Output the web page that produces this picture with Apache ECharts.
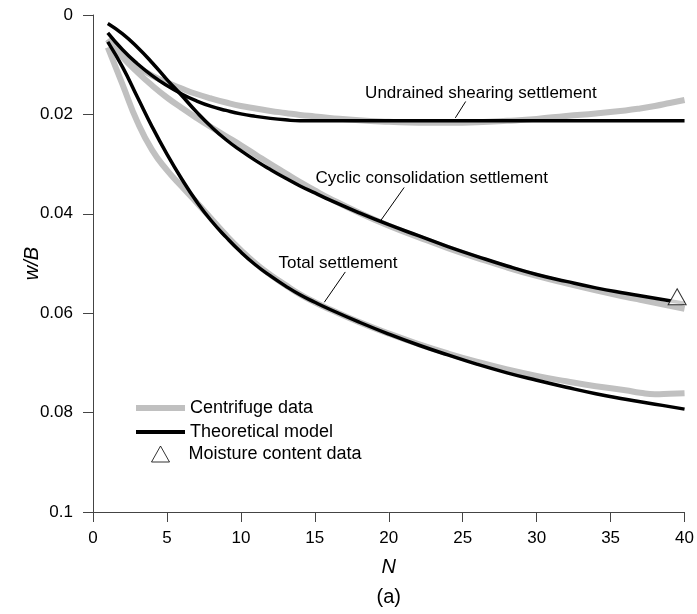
<!DOCTYPE html>
<html>
<head>
<meta charset="utf-8">
<script src="https://cdn.jsdelivr.net/npm/echarts@6/dist/echarts.min.js"></script>
<style>
  html, body { margin: 0; padding: 0; background: #fff; }
  #chart { width: 697px; height: 614px; }
</style>
</head>
<body>
<div id="chart"></div>
<script>
  // cycle number N (shared by all curves)
  const N = [1, 2, 3, 4, 5, 6, 7, 8, 9, 10, 11, 12, 13, 14, 15, 16, 18, 20, 22, 24, 26, 28, 30, 32, 34, 36, 37, 38, 39, 40]

  // centrifuge data (grey)
  const CF_UNDRAINED = [0.0049, 0.0082, 0.0104, 0.0122, 0.0136, 0.0148, 0.0159, 0.0168, 0.0176, 0.0183, 0.0188, 0.0193, 0.0197, 0.0201, 0.0204, 0.0207, 0.0212, 0.0215, 0.0217, 0.0217, 0.0216, 0.0213, 0.0209, 0.0203, 0.0198, 0.0192, 0.0188, 0.0183, 0.0177, 0.0171]
  const CF_CYCLIC = [0.0049, 0.0085, 0.0115, 0.0142, 0.0166, 0.0187, 0.0207, 0.0226, 0.0244, 0.0262, 0.0281, 0.0300, 0.0318, 0.0336, 0.0353, 0.0369, 0.0398, 0.0424, 0.0447, 0.0469, 0.0489, 0.0508, 0.0525, 0.0540, 0.0554, 0.0567, 0.0573, 0.0579, 0.0585, 0.0591]
  const CF_TOTAL = [0.0065, 0.0140, 0.0215, 0.0272, 0.0312, 0.0345, 0.0377, 0.0410, 0.0443, 0.0473, 0.0500, 0.0523, 0.0543, 0.0562, 0.0578, 0.0592, 0.0618, 0.0641, 0.0662, 0.0681, 0.0698, 0.0713, 0.0726, 0.0737, 0.0747, 0.0755, 0.0760, 0.0763, 0.0762, 0.0761]

  // theoretical model (black)
  const TH_UNDRAINED = [0.0036, 0.0070, 0.0098, 0.0122, 0.0142, 0.0159, 0.0173, 0.0184, 0.0192, 0.0199, 0.0204, 0.0208, 0.0211, 0.0213, 0.0213, 0.0213, 0.0213, 0.0213, 0.0213, 0.0213, 0.0213, 0.0213, 0.0213, 0.0213, 0.0213, 0.0213, 0.0213, 0.0213, 0.0213, 0.0213]
  const TH_CYCLIC = [0.0017, 0.0038, 0.0065, 0.0096, 0.0130, 0.0162, 0.0195, 0.0225, 0.0251, 0.0273, 0.0293, 0.0311, 0.0328, 0.0344, 0.0358, 0.0372, 0.0398, 0.0422, 0.0444, 0.0466, 0.0486, 0.0505, 0.0522, 0.0536, 0.0549, 0.0560, 0.0565, 0.0570, 0.0575, 0.0580]
  const TH_TOTAL = [0.0054, 0.0105, 0.0165, 0.0225, 0.0280, 0.0330, 0.0375, 0.0414, 0.0447, 0.0477, 0.0503, 0.0525, 0.0545, 0.0563, 0.0578, 0.0592, 0.0618, 0.0642, 0.0664, 0.0684, 0.0703, 0.0720, 0.0735, 0.0749, 0.0762, 0.0773, 0.0778, 0.0783, 0.0788, 0.0793]

  // moisture content data point
  const MOISTURE = [[39.5, 0.0567]]

  // axes
  const X_TICKS = [0, 40, 5]
  const Y_TICKS = [0, 0.1, 0.02]

  const FONT = '"Liberation Sans", Arial, sans-serif'
  const GREY = '#c0c0c0'

  const pairs = (ys) => N.map((n, i) => [n, ys[i]])

  const greyLine = (ys) => ({
    name: 'Centrifuge data',
    type: 'line',
    data: pairs(ys),
    smooth: 0.5,
    symbol: 'none',
    z: 2,
    itemStyle: { color: GREY },
    lineStyle: { color: GREY, width: 6 },
    emphasis: { disabled: true }
  })

  const blackLine = (ys) => ({
    name: 'Theoretical model',
    type: 'line',
    data: pairs(ys),
    smooth: 0.5,
    symbol: 'none',
    z: 3,
    itemStyle: { color: '#000' },
    lineStyle: { color: '#000', width: 3.5 },
    emphasis: { disabled: true }
  })

  const legendBase = {
    orient: 'vertical',
    selectedMode: false,
    padding: 0,
    textStyle: { fontSize: 18, fontFamily: FONT, color: '#000' }
  }

  const options = {
    backgroundColor: '#fff',
    animation: false,
    grid: { left: 93, right: 11, top: 15, bottom: 102 },
    xAxis: {
      type: 'value',
      position: 'bottom',
      min: X_TICKS[0],
      max: X_TICKS[1],
      interval: X_TICKS[2],
      name: 'N',
      nameLocation: 'middle',
      nameGap: 45,
      nameTextStyle: { fontSize: 20, fontStyle: 'italic', fontFamily: FONT, color: '#000' },
      axisLine: { onZero: false, lineStyle: { color: '#444', width: 1 } },
      axisTick: { length: 10, lineStyle: { color: '#444' } },
      axisLabel: { fontSize: 17, fontFamily: FONT, color: '#000', margin: 18 },
      splitLine: { show: false }
    },
    yAxis: {
      type: 'value',
      inverse: true,
      min: Y_TICKS[0],
      max: Y_TICKS[1],
      interval: Y_TICKS[2],
      name: 'w/B',
      nameLocation: 'middle',
      nameGap: 51,
      nameMoveOverlap: false,
      nameTextStyle: { fontSize: 20, fontStyle: 'italic', fontFamily: FONT, color: '#000' },
      axisLine: { show: true, onZero: false, lineStyle: { color: '#444', width: 1 } },
      axisTick: { show: true, length: 10, lineStyle: { color: '#444' } },
      axisLabel: {
        fontSize: 17,
        fontFamily: FONT,
        color: '#000',
        margin: 20,
        formatter: (v) => String(+v.toFixed(2))
      },
      splitLine: { show: false }
    },
    legend: [
      Object.assign({}, legendBase, {
        left: 136,
        top: 399,
        itemWidth: 49,
        itemHeight: 6,
        icon: 'rect',
        data: ['Centrifuge data']
      }),
      Object.assign({}, legendBase, {
        left: 136,
        top: 423,
        itemWidth: 49,
        itemHeight: 4,
        icon: 'rect',
        data: ['Theoretical model']
      }),
      Object.assign({}, legendBase, {
        left: 151,
        top: 445,
        itemWidth: 18,
        itemHeight: 16,
        icon: 'triangle',
        itemStyle: { color: '#fff', borderColor: '#000', borderWidth: 1 },
        textStyle: Object.assign({}, legendBase.textStyle, { padding: [0, 0, 0, 14] }),
        data: ['Moisture content data']
      })
    ],
    series: [
      greyLine(CF_UNDRAINED),
      greyLine(CF_CYCLIC),
      greyLine(CF_TOTAL),
      blackLine(TH_UNDRAINED),
      blackLine(TH_CYCLIC),
      blackLine(TH_TOTAL),
      {
        name: 'Moisture content data',
        type: 'scatter',
        data: MOISTURE,
        symbol: 'triangle',
        symbolSize: [18, 16],
        z: 5,
        itemStyle: { color: '#fff', borderColor: '#000', borderWidth: 1 },
        emphasis: { disabled: true }
      }
    ]
  }

  // curve labels with leader lines (text anchor = left/bottom, leader from -> to)
  const ANNOTATIONS = [
    { text: 'Undrained shearing settlement', at: [18.4, 0.0175], from: [25.2, 0.0174], to: [24.5, 0.0207] },
    { text: 'Cyclic consolidation settlement', at: [15.04, 0.0346], from: [21.04, 0.0347], to: [19.47, 0.0413] },
    { text: 'Total settlement', at: [12.54, 0.0517], from: [17.06, 0.0517], to: [15.64, 0.0578] }
  ]

  const chart = echarts.init(document.getElementById('chart'), null, { renderer: 'canvas' })
  chart.setOption(options)

  const px = (p) => chart.convertToPixel({ gridIndex: 0 }, p)
  const graphics = []
  ANNOTATIONS.forEach((a) => {
    const t = px(a.at)
    const f = px(a.from)
    const e = px(a.to)
    graphics.push({
      type: 'text',
      x: t[0],
      y: t[1],
      z: 10,
      style: { text: a.text, font: '17px ' + FONT, fill: '#000', align: 'left', verticalAlign: 'bottom' }
    })
    graphics.push({
      type: 'line',
      z: 10,
      shape: { x1: f[0], y1: f[1], x2: e[0], y2: e[1] },
      style: { stroke: '#000', lineWidth: 1 }
    })
  })
  // panel caption under the x-axis name
  const mid = px([(X_TICKS[0] + X_TICKS[1]) / 2, Y_TICKS[1]])
  graphics.push({
    type: 'text',
    x: mid[0],
    y: mid[1] + 85,
    style: { text: '(a)', font: '20px ' + FONT, fill: '#000', align: 'center', verticalAlign: 'middle' }
  })
  chart.setOption({ graphic: graphics })
</script>
</body>
</html>
